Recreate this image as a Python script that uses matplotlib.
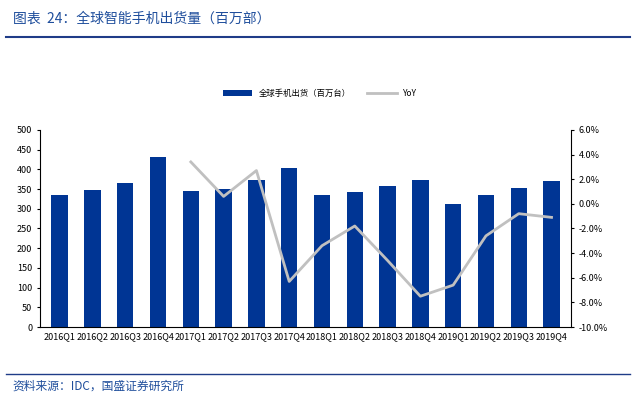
import matplotlib.pyplot as plt
import numpy as np

plt.rcParams['font.family'] = ['Noto Sans CJK SC', 'DejaVu Sans']

quarters = ['2016Q1', '2016Q2', '2016Q3', '2016Q4', '2017Q1', '2017Q2', '2017Q3', '2017Q4',
            '2018Q1', '2018Q2', '2018Q3', '2018Q4', '2019Q1', '2019Q2', '2019Q3', '2019Q4']
shipments = [335, 347, 366, 432, 346, 350, 373, 404, 334, 343, 357, 373, 311, 335, 353, 370]
yoy = [np.nan] * 4 + [3.4, 0.6, 2.7, -6.3, -3.4, -1.8, -4.6, -7.5, -6.6, -2.6, -0.8, -1.1]

fig = plt.figure(figsize=(6.4, 4.15), dpi=100)
ax = fig.add_axes([0.0625, 0.212, 0.83, 0.475])
x = np.arange(len(quarters))
ax.bar(x, shipments, width=0.5, color='#003594', label='全球手机出货（百万台）')
ax.set_ylim(0, 500)
ax.set_yticks(range(0, 501, 50))
ax.set_xlim(-0.6, len(quarters) - 0.4)
ax.set_xticks(x)
ax.set_xticklabels(quarters, fontsize=6.5)
ax.tick_params(axis='y', labelsize=6.5, length=2)
ax.tick_params(axis='x', length=0)
for s in ['top', 'right']:
    ax.spines[s].set_visible(False)

ax2 = ax.twinx()
ax2.plot(x, yoy, color='#c0c0c0', lw=2, label='YoY')
ax2.set_ylim(-10, 6)
ax2.set_yticks(range(-10, 7, 2))
ax2.set_yticklabels([f'{v:.1f}%' for v in range(-10, 7, 2)])
ax2.tick_params(axis='y', labelsize=6.5, length=2)
for s in ['top', 'left', 'bottom']:
    ax2.spines[s].set_visible(False)

h1, l1 = ax.get_legend_handles_labels()
h2, l2 = ax2.get_legend_handles_labels()
fig.legend(h1 + h2, l1 + l2, loc='center', bbox_to_anchor=(0.5, 0.775), ncol=2,
           frameon=False, fontsize=6, handlelength=3.5)

fig.text(0.02, 0.955, '图表  24：全球智能手机出货量（百万部）', fontsize=10, color='#1f4e9c', va='center')
fig.add_artist(plt.Line2D([0.01, 0.985], [0.912, 0.912], color='#1f3c88', lw=1.5))
fig.add_artist(plt.Line2D([0.01, 0.985], [0.098, 0.098], color='#1f3c88', lw=1))
fig.text(0.02, 0.07, '资料来源：IDC，国盛证券研究所', fontsize=8.5, color='#1f4e9c', va='center')

fig.savefig('out.png', dpi=100)
